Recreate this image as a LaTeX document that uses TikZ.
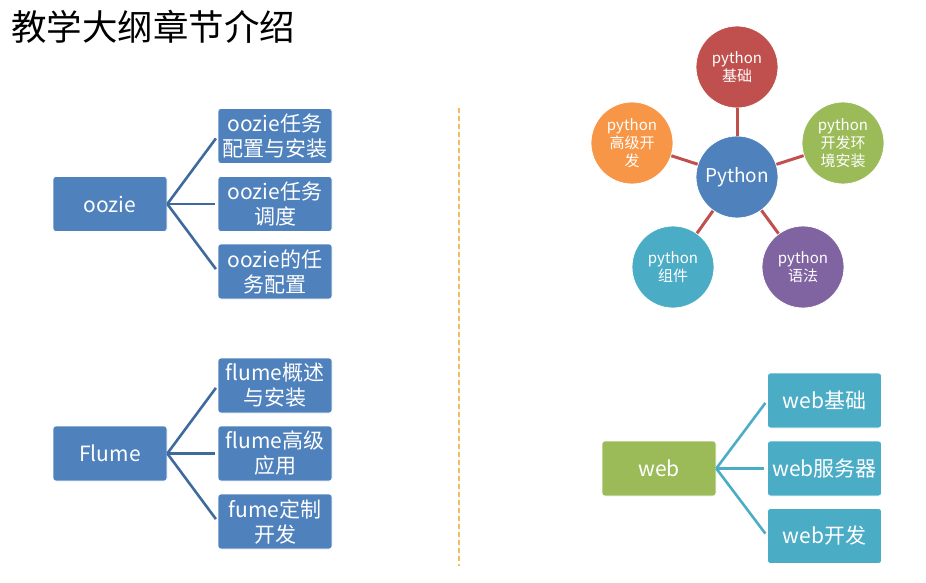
\documentclass[tikz,border=0pt]{standalone}
\usepackage{fontspec}
\setmainfont{Noto Sans CJK SC}
\begin{document}
\begin{tikzpicture}[x=1pt,y=-1pt,
  every node/.style={font=\fontsize{21}{25}\selectfont},
  boxb/.style={draw=white,line width=0.6pt,fill=blueA,rounded corners=3pt,minimum width=114pt,minimum height=55pt,inner sep=1pt,text=white,align=center},
  boxc/.style={boxb,fill=cyanA},
  boxg/.style={boxb,fill=greenA},
  linkb/.style={draw=blueL,line width=2.6pt,shorten >=3pt},
  linkc/.style={draw=cyanA,line width=2.6pt,shorten >=3pt},
  circ/.style={circle,draw=white,line width=0.8pt,minimum size=82pt,inner sep=0pt,text=white,align=center,font=\fontsize{15}{18}\selectfont},
  linkr/.style={draw=redA,line width=3pt}
]
\definecolor{blueA}{HTML}{4F81BD}
\definecolor{blueL}{HTML}{3F6A9E}
\definecolor{cyanA}{HTML}{4BACC6}
\definecolor{greenA}{HTML}{9BBB59}
\definecolor{redA}{HTML}{C0504D}
\definecolor{orangeA}{HTML}{F79646}
\definecolor{purpleA}{HTML}{8064A2}
\definecolor{dashC}{HTML}{F2BE5C}
\useasboundingbox (0,0) rectangle (926,583);

\node[anchor=west,font=\fontsize{35.5}{40}\selectfont,text=black,inner sep=0pt] (title) at (11,27) {教学大纲章节介绍};

% oozie
\node[boxb] (oz) at (110,204) {oozie};
\node[boxb] (oz1) at (275,136) {oozie任务\\配置与安装};
\node[boxb] (oz2) at (275,204) {oozie任务\\调度};
\node[boxb] (oz3) at (275,271.5) {oozie的任\\务配置};
\foreach \c in {oz1,oz2,oz3} \draw[linkb] (oz.east) -- (\c.west);

% flume
\node[boxb] (fl) at (110,453.5) {Flume};
\node[boxb] (fl1) at (275,385.5) {flume概述\\与安装};
\node[boxb] (fl2) at (275,453.5) {flume高级\\应用};
\node[boxb] (fl3) at (275,521.5) {fume定制\\开发};
\foreach \c in {fl1,fl2,fl3} \draw[linkb] (fl.east) -- (\c.west);

% divider
\coordinate (d1) at (459,108);
\coordinate (d2) at (459,566);
\draw[dashC,line width=1.5pt,dash pattern=on 5pt off 3pt] (d1) -- (d2);

% python
\node[circ,fill=blueA,font=\fontsize{19}{22}\selectfont] (py) at (737,177) {Python};
\node[circ,fill=redA] (p1) at (737,67) {python\\基础};
\node[circ,fill=greenA] (p2) at (843,143) {python\\开发环\\境安装};
\node[circ,fill=purpleA] (p3) at (803,267) {python\\语法};
\node[circ,fill=cyanA] (p4) at (673,267) {python\\组件};
\node[circ,fill=orangeA] (p5) at (632,143) {python\\高级开\\发};
\foreach \c in {p1,p2,p3,p4,p5} \draw[linkr] (py) -- (\c);

% web
\node[boxg] (wb) at (659,468.5) {web};
\node[boxc] (wb1) at (824.5,400.5) {web基础};
\node[boxc] (wb2) at (824.5,468.5) {web服务器};
\node[boxc] (wb3) at (824.5,536) {web开发};
\foreach \c in {wb1,wb2,wb3} \draw[linkc] (wb.east) -- (\c.west);
\end{tikzpicture}
\end{document}
